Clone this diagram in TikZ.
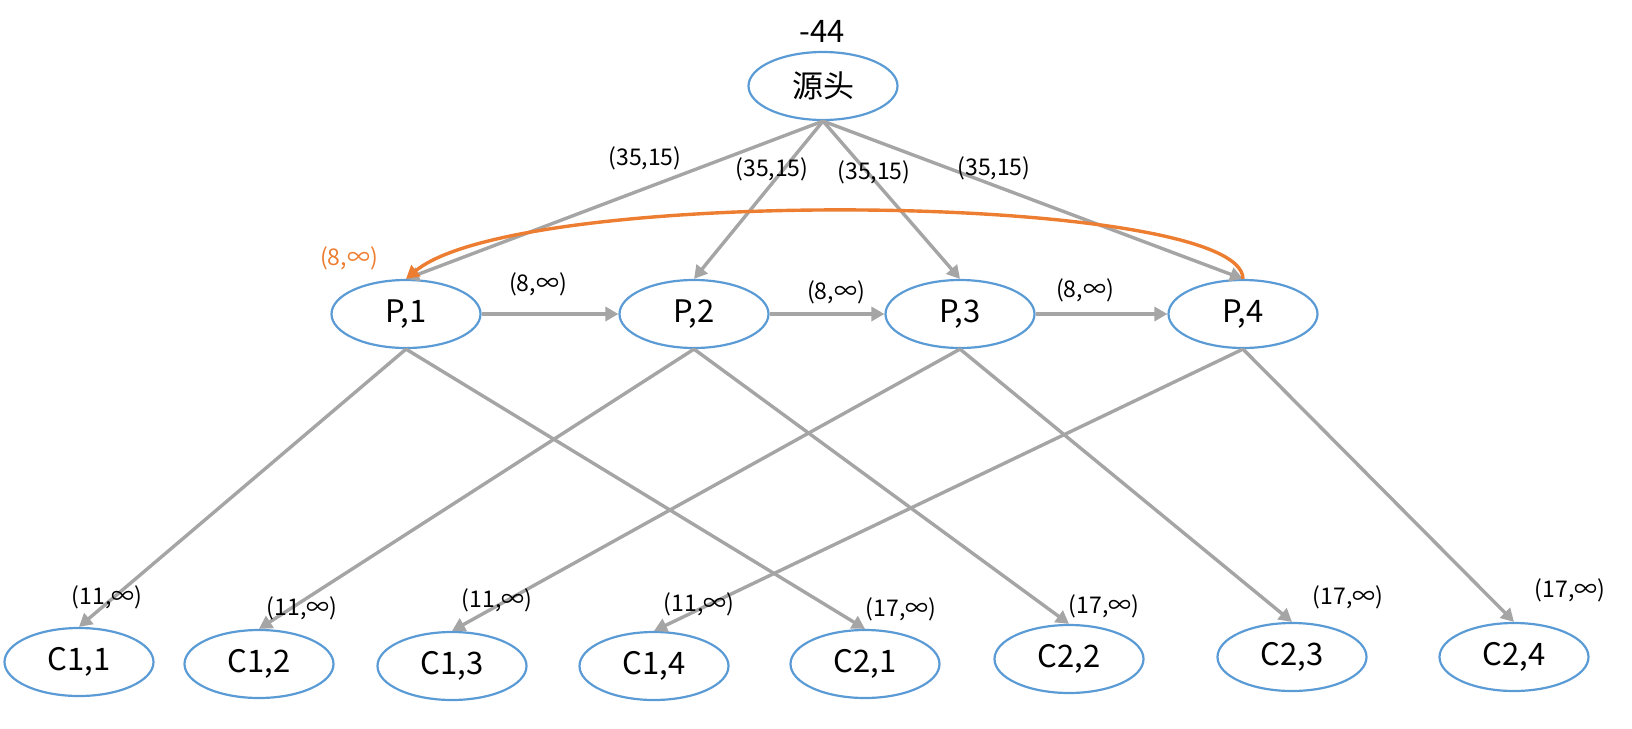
\documentclass[tikz,border=0pt]{standalone}
\usepackage{fontspec}
\setmainfont{Noto Sans CJK SC}
\usetikzlibrary{positioning, arrows.meta, shapes.geometric}
\definecolor{nodeblue}{HTML}{5B9BD5}
\definecolor{edgegray}{HTML}{A5A5A5}
\definecolor{backorange}{HTML}{ED7D31}

\begin{document}
\begin{tikzpicture}[x=0.5pt, y=-0.5pt, font=\fontsize{15.5}{18}\selectfont,
  vertex/.style={draw=nodeblue, line width=1.1pt, ellipse, inner sep=0pt,
                 minimum width=74.5pt, minimum height=34pt},
  flow/.style={draw=edgegray, line width=1.7pt,
               -{Triangle[length=6.5pt, width=7pt]}},
  back/.style={draw=backorange, line width=1.7pt,
               -{Triangle[length=6.5pt, width=7pt]}},
  wlabel/.style={font=\fontsize{11.5}{13}\selectfont, inner sep=1pt}]
  \useasboundingbox (0,0) rectangle (1632,728);
  % source, P row, C row
  \node[vertex] (src) at (823,86) {源头};
  \node (srcval) at (822,31) {-44};
  \foreach \i/\x in {1/406, 2/694, 3/960, 4/1243}
    \node[vertex] (p\i) at (\x,314) {P,\i};
  \foreach \a/\b/\x/\y in {1/1/79/662, 1/2/259/664, 1/3/452/666, 1/4/654/666,
                           2/1/865/664, 2/2/1069/659, 2/3/1292/657, 2/4/1514/657}
    \node[vertex] (c\a\b) at (\x,\y) {C\a,\b};
  % connectors
  \foreach \i in {1,...,4}
    \draw[flow] (src.south) -- (p\i.north);
  \draw[flow] (p1.east) -- (p2.west);
  \draw[flow] (p2.east) -- (p3.west);
  \draw[flow] (p3.east) -- (p4.west);
  \foreach \i in {1,...,4} {
    \draw[flow] (p\i.south) -- (c1\i.north);
    \draw[flow] (p\i.south) -- (c2\i.north);
  }
  \draw[back] (p4.north) .. controls +(0,-86) and +(114,-95) .. (p1.north);
  % weights
  \foreach \i/\x/\y in {1/645/158, 2/772/169, 3/874/172, 4/994/168}
    \node[wlabel] (s\i) at (\x,\y) {(35,15)};
  \node[wlabel, text=backorange] (wb) at (349,258) {(8,∞)};
  \foreach \i/\x/\y in {1/538/284, 2/836/292, 3/1085/290}
    \node[wlabel] (h\i) at (\x,\y) {(8,∞)};
  \foreach \i/\x/\y in {1/107/597, 2/302/608, 3/497/600, 4/699/604}
    \node[wlabel] (l\i) at (\x,\y) {(11,∞)};
  \foreach \i/\x/\y in {1/901/609, 2/1104/606, 3/1348/597, 4/1570/590}
    \node[wlabel] (r\i) at (\x,\y) {(17,∞)};
\end{tikzpicture}
\end{document}
